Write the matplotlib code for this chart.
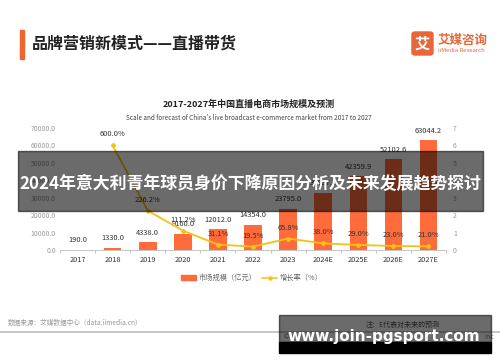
import matplotlib
matplotlib.use("Agg")
import matplotlib.pyplot as plt
from matplotlib.patches import Rectangle, FancyBboxPatch
from matplotlib.lines import Line2D
import numpy as np

plt.rcParams['font.family'] = ['Noto Sans CJK SC', 'DejaVu Sans']

# ── data ──────────────────────────────────────────────────────────────────────
years  = ["2017", "2018", "2019", "2020", "2021", "2022", "2023",
          "2024E", "2025E", "2026E", "2027E"]
market = [190.0, 1330.0, 4338.0, 9160.0, 12012.0, 14354.0, 23795.0,
          32837.1, 42359.9, 52102.6, 63044.2]          # 亿元
growth = [np.nan, 600.0, 226.2, 111.2, 31.1, 19.5, 65.8,
          38.0, 29.0, 23.0, 21.0]                      # %
left_ticks  = [0, 10000, 20000, 30000, 40000, 50000, 60000, 70000]
right_ticks = [0, 1, 2, 3, 4, 5, 6, 7]

ORANGE = "#FF6B3B"
GOLD   = "#F5C211"
W, H = 500, 362


def fx(px):
    return px / W


def fy(py):
    return 1 - py / H


fig = plt.figure(figsize=(5, 3.62), dpi=100)
fig.patch.set_facecolor("white")

# ── header ────────────────────────────────────────────────────────────────────
fig.patches.append(Rectangle((fx(20), fy(59)), fx(4), 29 / H, color="#F0642E",
                             transform=fig.transFigure, figure=fig))
fig.text(fx(32), fy(44), "品牌营销新模式——直播带货", fontsize=11.5,
         fontweight="bold", color="#222222", va="center", ha="left")

fig.patches.append(FancyBboxPatch((fx(412), fy(55)), fx(21), 23 / H,
                                  boxstyle="round,pad=0,rounding_size=0.006",
                                  color="#E8663A", transform=fig.transFigure, figure=fig))
fig.text(fx(422.5), fy(43.5), "艾", fontsize=11, fontweight="bold", color="white",
         ha="center", va="center")
fig.text(fx(438), fy(40), "艾媒咨询", fontsize=9, fontweight="bold", color="#E8663A",
         ha="left", va="center")
fig.text(fx(438), fy(51), "iiMedia Research", fontsize=4.3, color="#E8663A",
         ha="left", va="center")

# ── chart titles ──────────────────────────────────────────────────────────────
fig.text(fx(249), fy(104), "2017-2027年中国直播电商市场规模及预测", fontsize=6.5,
         fontweight="bold", color="#222222", ha="center", va="center")
fig.text(fx(249), fy(118),
         "Scale and forecast of China's live broadcast e-commerce market from 2017 to 2027",
         fontsize=4.6, color="#444444", ha="center", va="center")

# ── main axes ─────────────────────────────────────────────────────────────────
ax = fig.add_axes([fx(60), fy(250), 386 / W, 122 / H])
x = np.arange(len(years))
ax.bar(x, market, width=0.5, color=ORANGE, zorder=2)
for xi, v in zip(x, market):
    ax.annotate(f"{v:.1f}", (xi, v), xytext=(0, 4), textcoords="offset points",
                ha="center", va="bottom", fontsize=5.4, color="#333333", zorder=5)
ax.set_xlim(-0.5, 10.5)
ax.set_ylim(0, 70000)
ax.set_yticks(left_ticks)
ax.set_yticklabels([f"{t:.1f}" for t in left_ticks], fontsize=4.9, color="#999999")
ax.set_xticks(x)
ax.set_xticklabels(years, fontsize=5.3, color="#333333")
ax.tick_params(axis="x", length=0, pad=4)
ax.tick_params(axis="y", length=0, pad=3)
ax.set_xticks(np.arange(-0.5, 11, 1), minor=True)
ax.tick_params(axis="x", which="minor", length=2.5, color="#bbbbbb", width=0.6)
for s in ["top", "right", "left"]:
    ax.spines[s].set_visible(False)
ax.spines["bottom"].set_color("#bbbbbb")
ax.spines["bottom"].set_linewidth(0.6)
ax.patch.set_alpha(0)

ax2 = ax.twinx()
g = np.array(growth) / 100
ax2.plot(x, g, color=GOLD, lw=1.3, marker="o", ms=2.4, zorder=4)
for xi, v in zip(x, growth):
    if np.isnan(v):
        continue
    ax2.annotate(f"{v:.1f}%", (xi, v / 100), xytext=(0, 5), textcoords="offset points",
                 ha="center", va="bottom", fontsize=5.4, color="#333333", zorder=5)
ax2.set_ylim(0, 7)
ax2.set_yticks(right_ticks)
ax2.set_yticklabels([str(t) for t in right_ticks], fontsize=5, color="#999999")
ax2.tick_params(axis="y", length=0, pad=5)
for s in ["top", "right", "left", "bottom"]:
    ax2.spines[s].set_visible(False)

# ── legend ────────────────────────────────────────────────────────────────────
handles = [Rectangle((0, 0), 1, 1, color=ORANGE),
           Line2D([], [], color=GOLD, lw=1.1, marker="o", ms=2.2)]
fig.legend(handles, ["市场规模（亿元）", "增长率（%）"], loc="center",
           bbox_to_anchor=(fx(252), fy(278)), ncol=2, frameon=False, fontsize=5.2,
           labelcolor="#666666", handlelength=2.0, handleheight=0.6,
           columnspacing=0.8, handletextpad=0.4)

# ── footer ────────────────────────────────────────────────────────────────────
fig.text(fx(8), fy(323), "数据来源：艾媒数据中心（data.iimedia.cn）", fontsize=4.8,
         color="#999999", ha="left", va="center")
fig.add_artist(Line2D([0, 1], [fy(332), fy(332)], color="#bbbbbb", lw=1.2,
                      transform=fig.transFigure))
fig.text(fx(440), fy(325), "注：E代表对未来的预测", fontsize=5, color="#555555",
         ha="right", va="center")
fig.text(fx(284), fy(337), "©", fontsize=5, color="#555555", ha="left", va="center")
fig.text(fx(484), fy(337), "Inc", fontsize=5, color="#888888", ha="left", va="center")

# ── overlay banners ───────────────────────────────────────────────────────────
fig.patches.append(Rectangle((fx(18), fy(211)), fx(465), 60 / H, color="black",
                             alpha=0.58, transform=fig.transFigure, figure=fig,
                             zorder=10))
fig.text(fx(250), fy(184), "2024年意大利青年球员身价下降原因分析及未来发展趋势探讨",
         fontsize=12.2, fontweight="bold", color="white", ha="center", va="center",
         zorder=11)

fig.patches.append(Rectangle((fx(279), fy(342)), fx(212), 27 / H, color="black",
                             alpha=0.58, transform=fig.transFigure, figure=fig,
                             zorder=10))
fig.patches.append(Rectangle((fx(279), fy(353)), fx(212), 11 / H, color="black",
                             transform=fig.transFigure, figure=fig, zorder=10))
fig.text(fx(384), fy(337), "www.join-pgsport.com", fontsize=11, fontweight="bold",
         color="white", ha="center", va="center", zorder=11,
         family=["DejaVu Sans"])

fig.savefig("out.png", dpi=100)
